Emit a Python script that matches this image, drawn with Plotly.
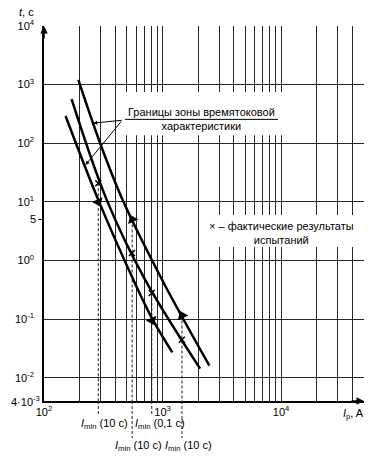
import math
import plotly.graph_objects as go

# ---- data (current I, A ; time t, s) ----
left_I = [152, 287, 567, 835, 1209]          # lower boundary of the time-current zone
left_t = [292, 10.8, 0.469, 0.0937, 0.027]
mid_I = [171, 338, 712, 2073]                 # test curve
mid_t = [563, 10.8, 0.469, 0.01425]
right_I = [195, 297, 464, 990, 2482]          # upper boundary of the zone
right_t = [1201, 101, 10.4, 0.469, 0.016]

test_I = [287, 552, 811, 1455]                # actual test results (x marks)
test_t = [20.8, 1.336, 0.278, 0.0445]

arrow_down_I = [287, 815]
arrow_down_t = [10.0, 0.095]
arrow_up_I = [556, 1461]
arrow_up_t = [5.0, 0.115]

imin_I = [287, 554, 811, 1458]
imin_top = [20.8, 5.0, 0.278, 0.115]
imin_text = ["(10 с)", "(10 с)", "(0,1 с)", "(10 с)"]
imin_row = [1, 2, 1, 2]

lead_I = [260, 224]                           # leader-line targets on the boundaries
lead_t = [220, 42.7]

x_major = [100, 1000, 10000]
x_major_text = ["10<sup>2</sup>", "10<sup>3</sup>", "10<sup>4</sup>"]
x_minor = [200, 300, 400, 500, 600, 700, 800, 900,
           2000, 3000, 4000, 5000, 6000, 7000, 8000, 9000,
           20000, 30000, 40000, 50000]
y_major = [0.01, 0.1, 1, 10, 100, 1000, 10000]
y_major_text = ["10<sup>-2</sup>", "10<sup>-1</sup>", "10<sup>0</sup>", "10<sup>1</sup>",
                "10<sup>2</sup>", "10<sup>3</sup>", "10<sup>4</sup>"]
x_range = [100, 50000]
y_range = [0.004, 10000]

FONT = "Liberation Sans, Arial, sans-serif"
GRID = "#262626"

fig = go.Figure()

# dashed I_min lines inside the plot
for I, top in zip(imin_I, imin_top):
    fig.add_trace(go.Scatter(x=[I, I], y=[top, y_range[0]], mode="lines",
                             line=dict(color="#222", width=1, dash="3px,2px"),
                             hoverinfo="skip", showlegend=False))

for I, t in [(left_I, left_t), (mid_I, mid_t), (right_I, right_t)]:
    fig.add_trace(go.Scatter(x=I, y=t, mode="lines",
                             line=dict(color="black", width=2.5, shape="spline", smoothing=1.0),
                             hoverinfo="skip", showlegend=False))

fig.add_trace(go.Scatter(x=test_I, y=test_t, mode="markers",
                         marker=dict(symbol="x-thin", size=6, line=dict(width=1.5, color="black")),
                         hoverinfo="skip", showlegend=False))
fig.add_trace(go.Scatter(x=arrow_down_I, y=arrow_down_t, mode="markers",
                         marker=dict(symbol="triangle-down", size=10, angle=-24, color="black"),
                         hoverinfo="skip", showlegend=False))
fig.add_trace(go.Scatter(x=arrow_up_I, y=arrow_up_t, mode="markers",
                         marker=dict(symbol="triangle-up", size=10, angle=-24, color="black"),
                         hoverinfo="skip", showlegend=False))

shapes = []
annotations = []

row_line_end = {1: -0.037, 2: -0.099}
row_label_y = {1: -0.061, 2: -0.119}
for I, txt, row in zip(imin_I, imin_text, imin_row):
    shapes.append(dict(type="line", xref="x", yref="paper", x0=I, x1=I, y0=0, y1=row_line_end[row],
                       line=dict(color="#222", width=1, dash="3px,2px")))
    annotations.append(dict(xref="x", yref="paper", x=math.log10(I), y=row_label_y[row],
                            xanchor="left", yanchor="middle", xshift=-19, showarrow=False,
                            text="<i>I</i><sub>min</sub> " + txt,
                            font=dict(size=11, family=FONT, color="black")))

# white boxes behind the text blocks
shapes.append(dict(type="rect", xref="paper", yref="paper", x0=0.244, x1=0.753, y0=0.709, y1=0.824,
                   fillcolor="white", opacity=1, line=dict(width=0, color="white"), layer="above"))
shapes.append(dict(type="rect", xref="paper", yref="paper", x0=0.4875, x1=0.981, y0=0.411, y1=0.496,
                   fillcolor="white", opacity=1, line=dict(width=0, color="white"), layer="above"))
# underline of label
shapes.append(dict(type="line", xref="paper", yref="paper", x0=0.253, x1=0.731, y0=0.751, y1=0.751,
                   line=dict(color="black", width=1), layer="above"))
# "5" tick mark
shapes.append(dict(type="line", xref="paper", yref="y", x0=-0.018, x1=0, y0=5, y1=5,
                   line=dict(color="black", width=1)))

annotations += [
    dict(xref="paper", yref="paper", x=0.491, y=0.752, xanchor="center", yanchor="middle",
         showarrow=False, text="Границы зоны времятоковой<br>характеристики", align="center",
         font=dict(size=11, family=FONT, color="black")),
    dict(xref="paper", yref="paper", x=0.741, y=0.449, xanchor="center", yanchor="middle",
         showarrow=False, text="× – фактические результаты<br>испытаний", align="center",
         font=dict(size=11, family=FONT, color="black")),
    # leader lines
    dict(xref="x", yref="y", x=math.log10(lead_I[0]), y=math.log10(lead_t[0]),
         ax=30, ay=-3, axref="pixel", ayref="pixel", text="", showarrow=True,
         arrowhead=2, arrowsize=0.8, arrowwidth=1, arrowcolor="black"),
    dict(xref="x", yref="y", x=math.log10(lead_I[1]), y=math.log10(lead_t[1]),
         ax=37, ay=-45, axref="pixel", ayref="pixel", text="", showarrow=True,
         arrowhead=2, arrowsize=0.8, arrowwidth=1, arrowcolor="black"),
    # axis arrows
    dict(xref="paper", yref="paper", x=0, y=1, ax=0, ay=14, text="", showarrow=True,
         arrowhead=2, arrowsize=1, arrowwidth=1.5, arrowcolor="black"),
    dict(xref="paper", yref="paper", x=1, y=0, ax=-14, ay=0, text="", showarrow=True,
         arrowhead=2, arrowsize=1, arrowwidth=1.5, arrowcolor="black"),
    # axis titles
    dict(xref="paper", yref="paper", x=-0.056, y=1.036, xanchor="center", yanchor="middle",
         showarrow=False, text="<i>t</i>, с", font=dict(size=11, family=FONT, color="black")),
    dict(xref="paper", yref="paper", x=0.966, y=-0.035, xanchor="center", yanchor="middle",
         showarrow=False, text="<i>I</i><sub>p</sub>, A", font=dict(size=11, family=FONT, color="black")),
    # extra y labels
    dict(xref="paper", yref="y", x=0, y=math.log10(5), xanchor="right", yanchor="middle",
         xshift=-6, showarrow=False,
         text="5", font=dict(size=11, family=FONT, color="black")),
    dict(xref="paper", yref="y", x=0, y=math.log10(y_range[0]), xanchor="right", yanchor="middle",
         xshift=-2, showarrow=False,
         text="4·10<sup>-3</sup>", font=dict(size=11, family=FONT, color="black")),
]

fig.update_layout(
    width=372, height=458, autosize=False,
    margin=dict(l=44, r=8, t=26, b=57, autoexpand=False),
    paper_bgcolor="white", plot_bgcolor="white",
    font=dict(family=FONT, size=11, color="black"),
    shapes=shapes, annotations=annotations,
    xaxis=dict(type="log", range=[math.log10(x_range[0]), math.log10(x_range[1])],
               tickvals=x_major, ticktext=x_major_text, ticks="", automargin=False,
               showgrid=True, gridcolor=GRID, gridwidth=1.3,
               minor=dict(tickvals=x_minor, showgrid=True, gridcolor=GRID, gridwidth=1.3, ticks=""),
               showline=True, linecolor="black", linewidth=1.5, zeroline=False),
    yaxis=dict(type="log", range=[math.log10(y_range[0]), math.log10(y_range[1])],
               tickvals=y_major, ticktext=y_major_text, ticks="", automargin=False,
               showgrid=True, gridcolor=GRID, gridwidth=1.3,
               showline=True, linecolor="black", linewidth=1.5, zeroline=False,
               ticklabelstandoff=6),
)

fig.write_html("out.html", config={"displayModeBar": False},
               post_script="document.body.style.margin='0';document.body.style.padding='0';")
